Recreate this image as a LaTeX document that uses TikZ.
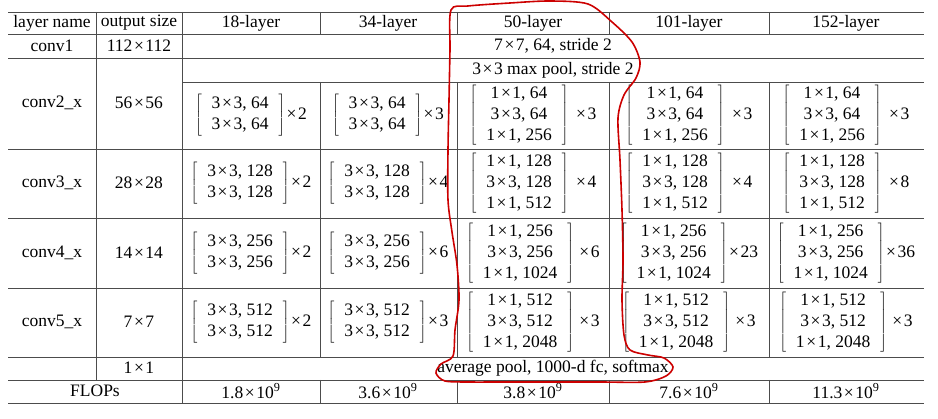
\documentclass[tikz,border=0pt]{standalone}
\usepackage{fontspec}
\setmainfont{Liberation Serif}
\usetikzlibrary{positioning}

\newcommand{\tm}{\hspace{0.09em}×\hspace{0.09em}}
\newcommand{\blk}[2]{$\left[\begin{tabular}{@{\hspace{10pt}}c@{\hspace{10pt}}}#1\end{tabular}\right]$#2}

\begin{document}
\begin{tikzpicture}[x=1pt, y=-1pt, font=\fontsize{17.5}{21}\selectfont,
	rule/.style={draw=black!70, line width=0.9pt},
	cell/.style={inner sep=0pt, anchor=center},
	outline/.style={draw=red!80!black, line width=1.6pt}]
	\useasboundingbox (0,0) rectangle (938,419);
	% rules of the table
	\foreach \y in {12,34,58,149,218,288,357,380,403}
		\draw[rule] (8,\y) -- (924,\y);
	\draw[rule] (182,82) -- (924,82);
	\draw[rule] (96,12) -- (96,380);
	\draw[rule] (182,12) -- (182,403);
	\foreach \x in {320,457,609,769} {
		\draw[rule] (\x,12) -- (\x,34);
		\draw[rule] (\x,82) -- (\x,357);
		\draw[rule] (\x,380) -- (\x,403);
	}
	% header
	\node[cell] (hname) at (52,23) {layer name};
	\node[cell] (hsize) at (139,23) {output size};
	\node[cell] (h18) at (251,23) {18-layer};
	\node[cell] (h34) at (388,23) {34-layer};
	\node[cell] (h50) at (533,23) {50-layer};
	\node[cell] (h101) at (689,23) {101-layer};
	\node[cell] (h152) at (846,23) {152-layer};
	% conv1 and pool
	\node[cell] (c1name) at (52,46) {conv1};
	\node[cell] (c1size) at (139,46) {112\tm112};
	\node[cell] (c1all) at (553,46) {7\tm7, 64, stride 2};
	\node[cell] (pool) at (553,70) {3\tm3 max pool, stride 2};
	% conv2_x
	\node[cell] (c2name) at (52,103) {conv2\_x};
	\node[cell] (c2size) at (139,103) {56\tm56};
	\node[cell] (c2a) at (251,115) {\blk{3\tm3, 64\\3\tm3, 64}{\tm2}};
	\node[cell] (c2b) at (388,115) {\blk{3\tm3, 64\\3\tm3, 64}{\tm3}};
	\node[cell] (c2c) at (533,115) {\blk{1\tm1, 64\\3\tm3, 64\\1\tm1, 256}{\hspace{6pt}\tm3}};
	\node[cell] (c2d) at (689,115) {\blk{1\tm1, 64\\3\tm3, 64\\1\tm1, 256}{\hspace{6pt}\tm3}};
	\node[cell] (c2e) at (846,115) {\blk{1\tm1, 64\\3\tm3, 64\\1\tm1, 256}{\hspace{6pt}\tm3}};
	% conv3_x
	\node[cell] (c3name) at (52,183) {conv3\_x};
	\node[cell] (c3size) at (139,183) {28\tm28};
	\node[cell] (c3a) at (251,183) {\blk{3\tm3, 128\\3\tm3, 128}{\tm2}};
	\node[cell] (c3b) at (388,183) {\blk{3\tm3, 128\\3\tm3, 128}{\tm4}};
	\node[cell] (c3c) at (533,183) {\blk{1\tm1, 128\\3\tm3, 128\\1\tm1, 512}{\hspace{6pt}\tm4}};
	\node[cell] (c3d) at (689,183) {\blk{1\tm1, 128\\3\tm3, 128\\1\tm1, 512}{\hspace{6pt}\tm4}};
	\node[cell] (c3e) at (846,183) {\blk{1\tm1, 128\\3\tm3, 128\\1\tm1, 512}{\hspace{6pt}\tm8}};
	% conv4_x
	\node[cell] (c4name) at (52,253) {conv4\_x};
	\node[cell] (c4size) at (139,253) {14\tm14};
	\node[cell] (c4a) at (251,253) {\blk{3\tm3, 256\\3\tm3, 256}{\tm2}};
	\node[cell] (c4b) at (388,253) {\blk{3\tm3, 256\\3\tm3, 256}{\tm6}};
	\node[cell] (c4c) at (533,253) {\blk{1\tm1, 256\\3\tm3, 256\\1\tm1, 1024}{\hspace{4pt}\tm6}};
	\node[cell] (c4d) at (689,253) {\blk{1\tm1, 256\\3\tm3, 256\\1\tm1, 1024}{\tm23}};
	\node[cell] (c4e) at (846,253) {\blk{1\tm1, 256\\3\tm3, 256\\1\tm1, 1024}{\tm36}};
	% conv5_x
	\node[cell] (c5name) at (52,322) {conv5\_x};
	\node[cell] (c5size) at (139,322) {7\tm7};
	\node[cell] (c5a) at (251,322) {\blk{3\tm3, 512\\3\tm3, 512}{\tm2}};
	\node[cell] (c5b) at (388,322) {\blk{3\tm3, 512\\3\tm3, 512}{\tm3}};
	\node[cell] (c5c) at (533,322) {\blk{1\tm1, 512\\3\tm3, 512\\1\tm1, 2048}{\hspace{4pt}\tm3}};
	\node[cell] (c5d) at (689,322) {\blk{1\tm1, 512\\3\tm3, 512\\1\tm1, 2048}{\hspace{4pt}\tm3}};
	\node[cell] (c5e) at (846,322) {\blk{1\tm1, 512\\3\tm3, 512\\1\tm1, 2048}{\hspace{4pt}\tm3}};
	% last rows
	\node[cell] (fcsize) at (139,368) {1\tm1};
	\node[cell] (fc) at (553,368) {average pool, 1000-d fc, softmax};
	\node[cell] (flops) at (95,391) {FLOPs};
	\node[cell] (f18) at (251,391) {1.8\tm10\textsuperscript{9}};
	\node[cell] (f34) at (388,391) {3.6\tm10\textsuperscript{9}};
	\node[cell] (f50) at (533,391) {3.8\tm10\textsuperscript{9}};
	\node[cell] (f101) at (689,391) {7.6\tm10\textsuperscript{9}};
	\node[cell] (f152) at (846,391) {11.3\tm10\textsuperscript{9}};
	% hand drawn outline
	\draw[outline] plot[smooth cycle] coordinates {
		(451,10) (468,6) (510,3) (550,1) (588,4) (612,22) (632,42) (640,62)
		(636,78) (624,95) (618,118) (620,160) (622,210) (623,260) (622,300)
		(624,335) (630,350) (648,355) (664,358) (673,367) (666,376) (645,382)
		(600,382) (550,382) (500,382) (470,382) (445,381) (436,373) (441,364)
		(453,356) (455,330) (459,300) (457,265) (452,232) (448,200) (448,150)
		(449,100) (450,50)};
\end{tikzpicture}
\end{document}
